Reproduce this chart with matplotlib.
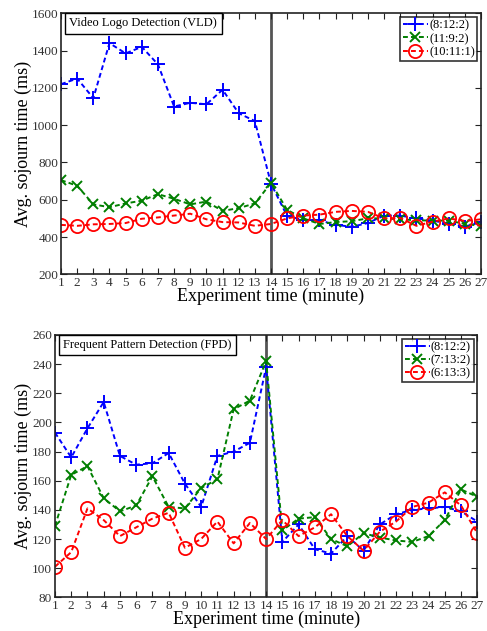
import matplotlib
matplotlib.use("Agg")
import matplotlib.pyplot as plt
import numpy as np

plt.rcParams['font.family'] = ['Liberation Serif', 'DejaVu Serif']
plt.rcParams['mathtext.fontset'] = 'stix'

minutes = list(range(1, 28))

# Video Logo Detection (VLD)
vld_labels = ['(8:12:2)', '(11:9:2)', '(10:11:1)']
vld_a = [1220, 1250, 1145, 1440, 1385, 1420, 1326, 1100, 1120, 1112, 1190, 1064, 1022,
         686, 512, 492, 490, 465, 455, 475, 515, 515, 500, 488, 472, 456, 480]
vld_b = [705, 675, 575, 560, 580, 595, 630, 605, 575, 590, 540, 555, 580,
         690, 545, 500, 470, 480, 485, 500, 500, 495, 490, 488, 488, 470, 460]
vld_c = [465, 460, 468, 470, 475, 498, 505, 515, 525, 495, 480, 478, 460,
         470, 500, 515, 520, 535, 540, 535, 500, 502, 460, 482, 500, 486, 495]

# Frequent Pattern Detection (FPD)
fpd_labels = ['(8:12:2)', '(7:13:2)', '(6:13:3)']
fpd_a = [193, 176, 196, 214, 177, 171, 172, 179, 158, 142, 177, 180, 186,
         238, 118, 130, 113, 110, 122, 112, 130, 137, 140, 141, 142, 139, 132]
fpd_b = [129, 164, 170, 148, 139, 143, 163, 142, 141, 155, 161, 209, 215,
         242, 126, 134, 135, 120, 115, 124, 121, 119, 118, 122, 133, 154, 149]
fpd_c = [101, 111, 141, 133, 122, 128, 134, 138, 114, 120, 132, 117, 131,
         120, 133, 122, 128, 137, 122, 112, 125, 132, 142, 145, 152, 143, 124]

change_minute = 14

fig = plt.figure(figsize=(4.87, 6.31), dpi=100)
ax1 = fig.add_axes([0.1253, 0.5653, 0.8624, 0.4136])
ax2 = fig.add_axes([0.1129, 0.0534, 0.8671, 0.4157])

dash = (0, (2.5, 1.6))
styles = [
    dict(color='#0000ff', marker='+', markersize=10, mew=1.4, mfc='none'),
    dict(color='#007f00', marker='x', markersize=6.5, mew=1.4, mfc='none'),
    dict(color='#ff0000', marker='o', markersize=9.5, mew=1.3, mfc='none'),
]

def draw(ax, series, labels, ylim, yticks, title):
    for s, lab, st in zip(series, labels, styles):
        ax.plot(minutes, s, linestyle=dash, lw=1.4, label=lab, **st)
    ax.axvline(change_minute, color='#555555', lw=2.0, zorder=0)
    ax.set_xlim(1, 27)
    ax.set_ylim(*ylim)
    ax.set_xticks(minutes)
    ax.set_yticks(yticks)
    ax.tick_params(direction='in', top=True, right=True, labelsize=9.5, length=4,
                   pad=2, colors='#222222', labelcolor='#333333')
    for sp in ax.spines.values():
        sp.set_linewidth(1.2)
        sp.set_color('#222222')
    ax.set_xlabel('Experiment time (minute)', fontsize=13, labelpad=-1)
    ax.set_ylabel('Avg. sojourn time (ms)', fontsize=13, labelpad=0)
    ax.text(0.02, 0.985, title, transform=ax.transAxes, fontsize=9,
            va='top', ha='left',
            bbox=dict(boxstyle='square,pad=0.35', fc='white', ec='black', lw=1.0))
    leg = ax.legend(loc='upper right', fontsize=9, frameon=True, fancybox=False,
                    handlelength=2.0, handletextpad=0.1, borderpad=0.2,
                    labelspacing=0.1, borderaxespad=0.3)
    leg.get_frame().set_edgecolor('black')
    leg.get_frame().set_linewidth(1.2)

draw(ax1, [vld_a, vld_b, vld_c], vld_labels, (200, 1600),
     list(range(200, 1601, 200)), 'Video Logo Detection (VLD)')
draw(ax2, [fpd_a, fpd_b, fpd_c], fpd_labels, (80, 260),
     list(range(80, 261, 20)), 'Frequent Pattern Detection (FPD)')

fig.savefig('out.png', dpi=100)
